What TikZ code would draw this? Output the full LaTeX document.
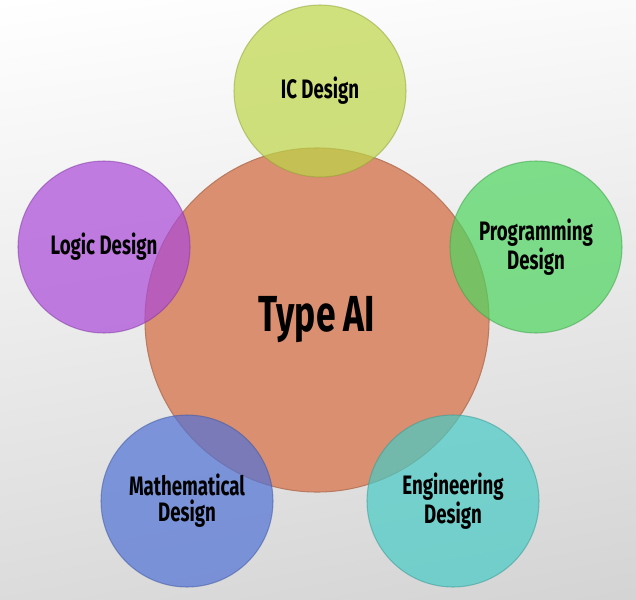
\documentclass[tikz,border=0pt]{standalone}
\usepackage{fontspec}
\usepackage{xcolor}
\usetikzlibrary{backgrounds}
\usetikzlibrary{shadings}

\newfontfamily\labelfont[FakeStretch=0.7]{Fira Sans}

\definecolor{hubcol}{RGB}{218,143,112}
\definecolor{iccol}{RGB}{189,214,71}
\definecolor{progcol}{RGB}{77,213,94}
\definecolor{engcol}{RGB}{71,203,197}
\definecolor{mathcol}{RGB}{80,114,214}
\definecolor{logiccol}{RGB}{170,73,217}

\begin{document}
\begin{tikzpicture}[x=0.75pt, y=-0.75pt,
    petal/.style={circle, minimum size=129pt, inner sep=0pt, draw=#1!75!black, draw opacity=0.5,
        line width=0.8pt, fill=#1, fill opacity=0.7, text opacity=1, align=center,
        font=\labelfont\bfseries\fontsize{20}{19.5}\selectfont}]
    % Background: white at the top, light grey at the bottom
    \shade[upper left=white, upper right=gray!4, lower left=gray!28, lower right=gray!34]
        (0,0) rectangle (636,600);

    % Central circle
    \node[circle, minimum size=258pt, inner sep=0pt, fill=hubcol, draw=hubcol!85!black,
        line width=0.8pt, font=\labelfont\bfseries\fontsize{38}{40}\selectfont] (hub) at (317,320) {Type AI};

    % Surrounding circles (translucent, drawn over the centre)
    \node[petal=iccol] (ic) at (320,91) {IC Design};
    \node[petal=progcol] (prog) at (536,247) {Programming\\Design};
    \node[petal=engcol] (eng) at (453,501) {Engineering\\Design};
    \node[petal=mathcol] (math) at (187,501) {Mathematical\\Design};
    \node[petal=logiccol] (logic) at (104,247) {Logic Design};
\end{tikzpicture}
\end{document}
